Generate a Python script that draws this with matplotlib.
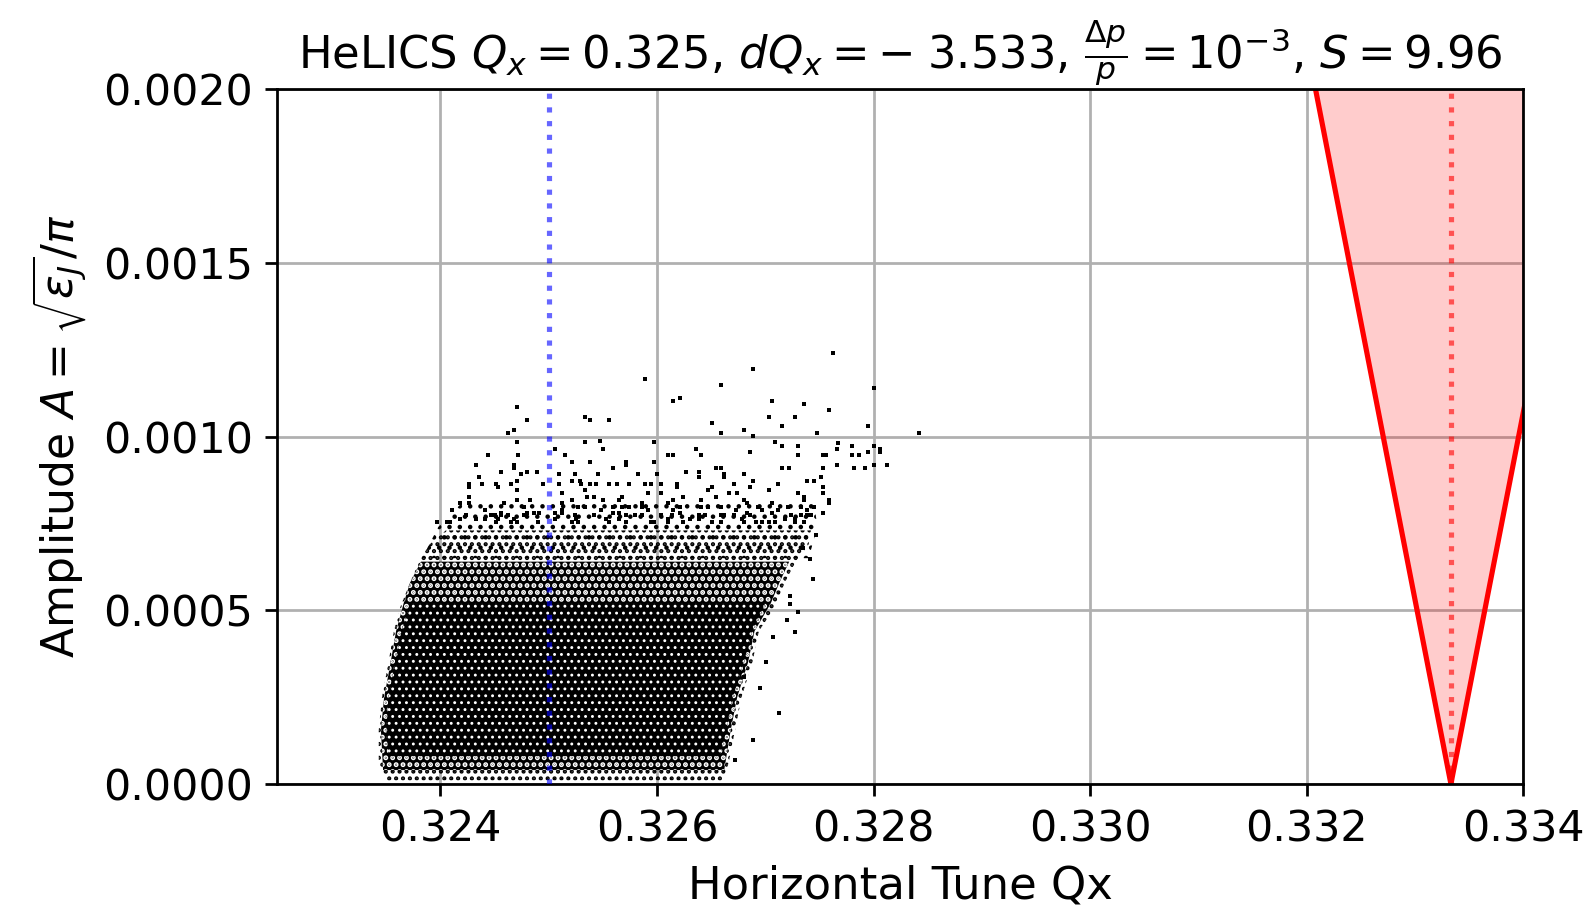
import numpy as np
import matplotlib
matplotlib.use("Agg")
import matplotlib.pyplot as plt

# tune settings from the title
q_x = 0.325
q_res = 0.33333

# stop band of the third order resonance (read at A = 0 and A = 0.002)
band_amp = [0.0, 0.002]
band_left = [0.33333, 0.33208]
band_right = [0.33333, 0.33458]

# outlines of the dense particle cloud (Qx, A):
# halo = thin upper fringe, outer = light fringe, mid = half filled, core = nearly solid
halo_qx = [0.32383, 0.32398, 0.32420, 0.32745, 0.32748, 0.32740]
halo_a = [0.00065, 0.00074, 0.00081, 0.00081, 0.00074, 0.00065]
outer_qx = [0.32350, 0.32343, 0.32343, 0.32346, 0.32352, 0.32357, 0.32363, 0.32372,
            0.32380, 0.32390, 0.32405, 0.32742, 0.32740, 0.32728, 0.32718, 0.32714,
            0.32709, 0.32694, 0.32688, 0.32678, 0.32672, 0.32666, 0.32661]
outer_a = [0.00001, 0.00006, 0.000155, 0.00025, 0.00035, 0.00044, 0.00051, 0.00058,
           0.00064, 0.00069, 0.00073, 0.00073, 0.00069, 0.00064, 0.00058, 0.00055,
           0.00051, 0.00044, 0.00035, 0.00025, 0.000155, 0.00006, 0.00001]
mid_qx = [0.32347, 0.32345, 0.32348, 0.32354, 0.32359, 0.32366, 0.32372, 0.32382,
          0.32722, 0.32713, 0.32705, 0.32690, 0.32684, 0.32674, 0.32668, 0.32662]
mid_a = [0.00004, 0.000155, 0.00025, 0.00035, 0.00044, 0.00052, 0.00058, 0.00064,
         0.00064, 0.00058, 0.00052, 0.00044, 0.00035, 0.00025, 0.000155, 0.00004]
core_qx = [0.32352, 0.32350, 0.32352, 0.32358, 0.32364, 0.32372,
           0.32700, 0.32688, 0.32680, 0.32670, 0.32664, 0.32658]
core_a = [0.00008, 0.000155, 0.00025, 0.00035, 0.00044, 0.00052,
          0.00052, 0.00044, 0.00035, 0.00025, 0.000155, 0.00008]

# single particles outside the dense core
sparse_qx = [
    0.32762, 0.32589, 0.32689, 0.32659, 0.32800, 0.32615, 0.32621, 0.32706, 0.32736, 0.32759,
    0.32471, 0.32480, 0.32533, 0.32538, 0.32556, 0.32703, 0.32727, 0.32715, 0.32651, 0.32680,
    0.32795, 0.32468, 0.32462, 0.32659, 0.32748, 0.32842, 0.32689,
    0.32471, 0.32533, 0.32547, 0.32597, 0.32709, 0.32767,
    0.32715, 0.32730, 0.32780, 0.32800,
    0.32506, 0.32550, 0.32636, 0.32686, 0.32766, 0.32806, 0.32795, 0.32806,
    0.32444, 0.32472, 0.32515, 0.32610, 0.32615, 0.32641, 0.32730, 0.32753, 0.32756, 0.32780, 0.32786,
    0.32521, 0.32538, 0.32571, 0.32597,
    0.32433, 0.32468, 0.32571, 0.32766, 0.32800, 0.32812,
    0.32468, 0.32559, 0.32654, 0.32659, 0.32715, 0.32722, 0.32753, 0.32782, 0.32792,
    0.32456, 0.32480, 0.32489, 0.32627, 0.32639,
    0.32474, 0.32509, 0.32524, 0.32545, 0.32582, 0.32600, 0.32662, 0.32680,
    0.32436, 0.32639, 0.32662, 0.32751,
    0.32471, 0.32521, 0.32529, 0.32689, 0.32738, 0.32745,
    0.32426, 0.32438, 0.32451, 0.32465, 0.32495, 0.32509, 0.32530, 0.32538, 0.32544, 0.32556,
    0.32563, 0.32574, 0.32589, 0.32594, 0.32604, 0.32618, 0.32671, 0.32712,
    0.32426, 0.32453, 0.32618, 0.32651, 0.32686, 0.32753,
    0.32471, 0.32533, 0.32647, 0.32703,
    0.32512, 0.32592, 0.32604, 0.32666, 0.32674, 0.32730, 0.32753,
    0.32426, 0.32535, 0.32542, 0.32568, 0.32624, 0.32654, 0.32736,
    0.32471, 0.32483, 0.32521, 0.32550, 0.32565, 0.32615, 0.32641, 0.32680, 0.32736, 0.32759,
    0.32418, 0.32426, 0.32459, 0.32512, 0.32586, 0.32610, 0.32683, 0.32706, 0.32759,
    0.32477, 0.32527, 0.32533, 0.32559, 0.32568, 0.32574, 0.32586, 0.32621, 0.32641, 0.32647,
    0.32659, 0.32693, 0.32721, 0.32733, 0.32745,
    0.32411, 0.32441, 0.32512, 0.32548, 0.32592, 0.32615, 0.32673, 0.32697, 0.32712, 0.32738,
    0.32456, 0.32480, 0.32486, 0.32491, 0.32506, 0.32512, 0.32559, 0.32565, 0.32621, 0.32683,
    0.32706, 0.32753,
    0.32424, 0.32447, 0.32450, 0.32456, 0.32462, 0.32477, 0.32524, 0.32542, 0.32571, 0.32580,
    0.32586, 0.32604, 0.32614, 0.32639, 0.32644, 0.32659, 0.32662, 0.32671, 0.32686, 0.32724,
    0.32733, 0.32738, 0.32742,
    0.32418, 0.32433, 0.32441, 0.32453, 0.32468, 0.32506, 0.32525, 0.32553, 0.32565, 0.32610,
    0.32630, 0.32639, 0.32678, 0.32718, 0.32727,
    0.32397, 0.32406, 0.32409, 0.32451, 0.32465, 0.32471, 0.32490, 0.32521, 0.32527, 0.32556,
    0.32571, 0.32594, 0.32597, 0.32610, 0.32624, 0.32651, 0.32659, 0.32680, 0.32691, 0.32697,
    0.32703, 0.32709, 0.32727, 0.32736,
    0.32744, 0.32741, 0.32730, 0.32727, 0.32720, 0.32723, 0.32723, 0.32747, 0.32735,
    0.32713, 0.32689, 0.32672, 0.32680, 0.32695, 0.32707, 0.32701,
]
sparse_a = [
    0.001240, 0.001166, 0.001194, 0.001148, 0.001139, 0.001103, 0.001110, 0.001103, 0.001094, 0.001076,
    0.001084, 0.001047, 0.001056, 0.001047, 0.001047, 0.001056, 0.001056, 0.001030, 0.001038, 0.001020,
    0.001030, 0.001020, 0.001011, 0.001011, 0.001011, 0.001011, 0.001002,
    0.000984, 0.000984, 0.000988, 0.000984, 0.000984, 0.000981,
    0.000974, 0.000974, 0.000974, 0.000974,
    0.000964, 0.000964, 0.000964, 0.000956, 0.000964, 0.000964, 0.000956, 0.000956,
    0.000946, 0.000946, 0.000946, 0.000946, 0.000946, 0.000946, 0.000946, 0.000946, 0.000946, 0.000946, 0.000946,
    0.000928, 0.000928, 0.000928, 0.000928,
    0.000918, 0.000918, 0.000918, 0.000918, 0.000918, 0.000918,
    0.000909, 0.000909, 0.000909, 0.000909, 0.000909, 0.000909, 0.000909, 0.000909, 0.000909,
    0.000899, 0.000899, 0.000899, 0.000899, 0.000899,
    0.000892, 0.000892, 0.000892, 0.000892, 0.000892, 0.000892, 0.000892, 0.000892,
    0.000883, 0.000883, 0.000883, 0.000883,
    0.000873, 0.000873, 0.000873, 0.000873, 0.000873, 0.000873,
    0.000864, 0.000864, 0.000864, 0.000864, 0.000864, 0.000864, 0.000864, 0.000864, 0.000864, 0.000864,
    0.000864, 0.000864, 0.000864, 0.000864, 0.000864, 0.000864, 0.000864, 0.000864,
    0.000855, 0.000855, 0.000855, 0.000855, 0.000855, 0.000855,
    0.000845, 0.000845, 0.000845, 0.000845,
    0.000837, 0.000837, 0.000837, 0.000837, 0.000837, 0.000837, 0.000837,
    0.000827, 0.000827, 0.000827, 0.000827, 0.000827, 0.000827, 0.000827,
    0.000818, 0.000818, 0.000818, 0.000818, 0.000818, 0.000818, 0.000818, 0.000818, 0.000818, 0.000818,
    0.000808, 0.000808, 0.000808, 0.000808, 0.000808, 0.000808, 0.000808, 0.000808, 0.000808,
    0.000798, 0.000798, 0.000798, 0.000798, 0.000798, 0.000798, 0.000798, 0.000798, 0.000798, 0.000798,
    0.000798, 0.000798, 0.000798, 0.000798, 0.000798,
    0.000789, 0.000789, 0.000789, 0.000789, 0.000789, 0.000789, 0.000789, 0.000789, 0.000789, 0.000789,
    0.000781, 0.000781, 0.000781, 0.000781, 0.000781, 0.000781, 0.000781, 0.000781, 0.000781, 0.000781,
    0.000781, 0.000781,
    0.000773, 0.000773, 0.000773, 0.000773, 0.000773, 0.000773, 0.000773, 0.000773, 0.000773, 0.000773,
    0.000773, 0.000773, 0.000773, 0.000773, 0.000773, 0.000773, 0.000773, 0.000773, 0.000773, 0.000773,
    0.000773, 0.000773, 0.000773,
    0.000762, 0.000762, 0.000762, 0.000762, 0.000762, 0.000762, 0.000762, 0.000762, 0.000762, 0.000762,
    0.000762, 0.000762, 0.000762, 0.000762, 0.000762,
    0.000753, 0.000753, 0.000753, 0.000753, 0.000753, 0.000753, 0.000753, 0.000753, 0.000753, 0.000753,
    0.000753, 0.000753, 0.000753, 0.000753, 0.000753, 0.000753, 0.000753, 0.000753, 0.000753, 0.000753,
    0.000753, 0.000753, 0.000753, 0.000753,
    0.000591, 0.000647, 0.000494, 0.000438, 0.000471, 0.000519, 0.000541, 0.000716, 0.000678,
    0.000203, 0.000127, 0.000069, 0.000309, 0.000275, 0.000424, 0.000352,
]

x_ticks = [0.324, 0.326, 0.328, 0.330, 0.332, 0.334]
y_ticks = [0.0, 0.0005, 0.0010, 0.0015, 0.0020]


def hatched(ax, qx, amp, face, dots, lw, pattern='......'):
    # the cloud is too dense to read point by point, so a dotted fill stands in for it
    with plt.rc_context({'hatch.linewidth': lw}):
        poly = ax.fill(qx, amp, facecolor=face, edgecolor=dots, hatch=pattern,
                       linewidth=0, zorder=2)[0]
    if hasattr(poly, 'set_hatch_linewidth'):
        poly.set_hatch_linewidth(lw)
    return poly


fig = plt.figure(figsize=(6.4, 3.648), dpi=248.4)
ax = fig.add_axes([0.1742, 0.1347, 0.7841, 0.7666])

hatched(ax, halo_qx, halo_a, 'none', 'black', 0.7, '....')
hatched(ax, outer_qx, outer_a, 'none', 'black', 0.8)
hatched(ax, mid_qx, mid_a, 'black', 'white', 1.0)
hatched(ax, core_qx, core_a, 'black', 'white', 0.45)
ax.plot(sparse_qx, sparse_a, 's', color='black', markersize=1.0, markeredgewidth=0,
        antialiased=False, zorder=3)

ax.axvline(q_x, color='blue', linestyle=':', linewidth=1.5, alpha=0.6, zorder=4)

ax.fill_betweenx(band_amp, band_left, band_right, color='red', alpha=0.2, linewidth=0)
ax.plot(band_left, band_amp, color='red', linewidth=1.5)
ax.plot(band_right, band_amp, color='red', linewidth=1.5)
ax.axvline(q_res, color='red', linestyle=':', linewidth=1.5, alpha=0.6)

ax.set_xlim(0.32249, 0.334)
ax.set_ylim(0, 0.002)
ax.set_xticks(x_ticks)
ax.set_yticks(y_ticks)
ax.grid(True, zorder=0)
ax.set_axisbelow(True)
ax.tick_params(labelsize=12.4)

ax.set_xlabel('Horizontal Tune Qx', fontsize=13)
ax.set_ylabel(r'Amplitude $A = \sqrt{\varepsilon_J}/\pi$', fontsize=12.8)
ax.set_title(r'HeLICS $Q_x = 0.325$, $dQ_x = -\;3.533$, $\frac{\Delta p}{p} = 10^{-3}$, $S = 9.96$',
             fontsize=13)

fig.savefig('out.png', dpi=248.4)
